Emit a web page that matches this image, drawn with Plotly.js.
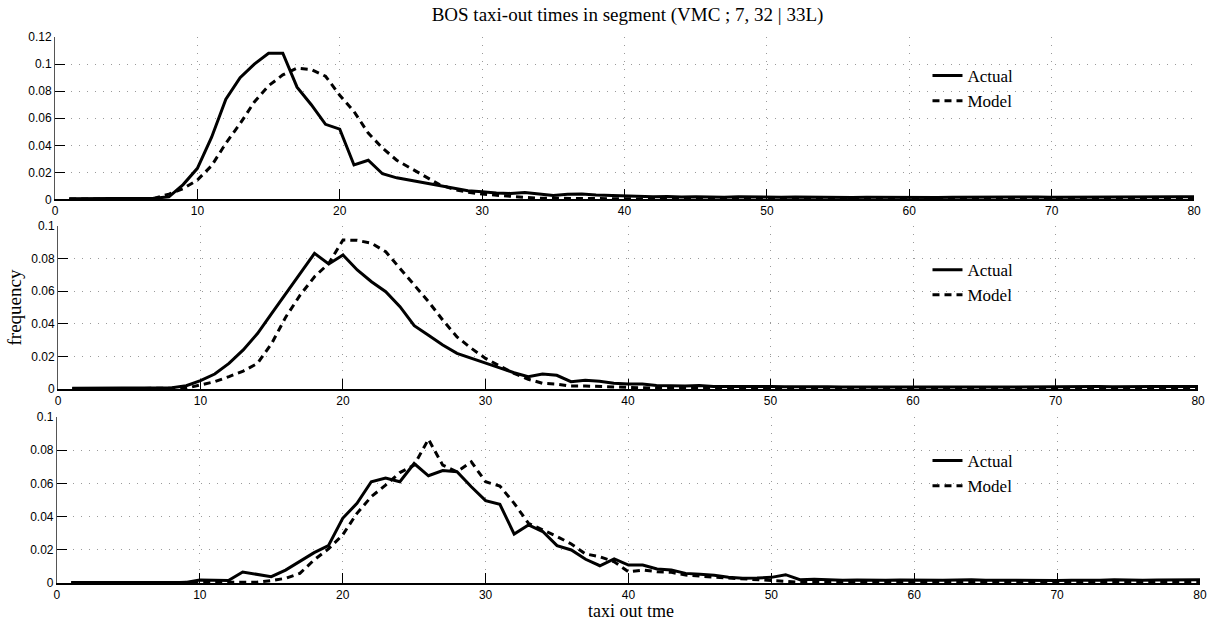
<!DOCTYPE html>
<html>
<head>
<meta charset="utf-8">
<script src="https://cdn.plot.ly/plotly-3.0.1.min.js"></script>
<style>html,body{margin:0;padding:0;background:#fff}#chart{width:1211px;height:620px}</style>
</head>
<body>
<div id="chart"></div>
<script>
// taxi-out time bins (minutes)
const taxiTime = [1,2,3,4,5,6,7,8,9,10,11,12,13,14,15,16,17,18,19,20,
  21,22,23,24,25,26,27,28,29,30,31,32,33,34,35,36,37,38,39,40,
  41,42,43,44,45,46,47,48,49,50,51,52,53,54,55,56,57,58,59,60,
  61,62,63,64,65,66,67,68,69,70,71,72,73,74,75,76,77,78,79,80];

// Panel 1
const actual1 = [0.0005,0.0005,0.0005,0.0005,0.0006,0.0006,0.001,0.002,0.011,0.023,
  0.046,0.074,0.090,0.100,0.108,0.108,0.083,0.070,0.0555,0.052,
  0.0255,0.029,0.019,0.016,0.014,0.0125,0.0105,0.0083,0.0065,0.0058,
  0.0048,0.0045,0.0052,0.004,0.003,0.0038,0.004,0.0033,0.003,0.0025,
  0.0022,0.002,0.0022,0.0018,0.002,0.0018,0.0017,0.002,0.0018,0.0017,
  0.0016,0.0018,0.0016,0.0015,0.0017,0.0015,0.0016,0.0015,0.0016,0.0017,
  0.0016,0.0015,0.0016,0.0017,0.0016,0.0015,0.0016,0.0017,0.0018,0.0016,
  0.0017,0.0018,0.0019,0.002,0.0021,0.0022,0.0022,0.0021,0.002,0.002];
const model1 = [0.0003,0.0003,0.0003,0.0003,0.0004,0.0005,0.001,0.004,0.008,0.0144,
  0.025,0.0415,0.056,0.072,0.084,0.092,0.097,0.096,0.091,0.077,
  0.065,0.049,0.038,0.029,0.023,0.017,0.011,0.0075,0.0053,0.004,
  0.003,0.002,0.0015,0.001,0.001,0.0008,0.0006,0.0005,0.0005,0.0005,
  0.0004,0.0004,0.0004,0.0004,0.0004,0.0004,0.0004,0.0004,0.0004,0.0004,
  0.0004,0.0004,0.0004,0.0004,0.0004,0.0004,0.0004,0.0004,0.0004,0.0004,
  0.0004,0.0004,0.0004,0.0004,0.0004,0.0004,0.0004,0.0004,0.0004,0.0004,
  0.0004,0.0004,0.0004,0.0004,0.0004,0.0004,0.0004,0.0004,0.0004,0.0004];

// Panel 2
const actual2 = [0.0005,0.0005,0.0005,0.0005,0.0006,0.0005,0.0005,0.0008,0.002,0.0051,
  0.0092,0.0157,0.024,0.034,0.0464,0.059,0.071,0.0832,0.0767,0.0822,
  0.073,0.0658,0.0597,0.0505,0.0388,0.033,0.027,0.0219,0.0188,0.0158,
  0.013,0.010,0.0076,0.0092,0.0084,0.0045,0.0053,0.0048,0.0035,0.003,
  0.003,0.0022,0.002,0.0018,0.0022,0.0016,0.0015,0.0016,0.0014,0.0015,
  0.0014,0.0015,0.0013,0.0014,0.0013,0.0014,0.0013,0.0014,0.0013,0.0012,
  0.0013,0.0014,0.0013,0.0012,0.0013,0.0012,0.0013,0.0014,0.0013,0.0012,
  0.0013,0.0014,0.0015,0.0014,0.0013,0.0014,0.0015,0.0016,0.0015,0.0016];
const model2 = [0.0002,0.0002,0.0002,0.0002,0.0002,0.0002,0.0002,0.0002,0.0005,0.0025,
  0.0045,0.0076,0.011,0.0157,0.028,0.0444,0.0577,0.0689,0.077,0.0914,
  0.0912,0.0894,0.0842,0.074,0.0638,0.0536,0.0423,0.032,0.025,0.0188,
  0.0141,0.0096,0.006,0.0035,0.003,0.0018,0.0018,0.0015,0.001,0.001,
  0.0006,0.0005,0.0005,0.0005,0.0005,0.0005,0.0005,0.0005,0.0005,0.0005,
  0.0005,0.0005,0.0005,0.0005,0.0005,0.0005,0.0005,0.0005,0.0005,0.0005,
  0.0005,0.0005,0.0005,0.0005,0.0005,0.0005,0.0005,0.0005,0.0005,0.0005,
  0.0005,0.0005,0.0005,0.0005,0.0005,0.0005,0.0005,0.0005,0.0005,0.0005];

// Panel 3
const actual3 = [0.0003,0.0003,0.0003,0.0003,0.0004,0.0003,0.0003,0.0003,0.0003,0.0018,
  0.0015,0.0015,0.0066,0.0054,0.0038,0.0078,0.0128,0.0183,0.0225,0.039,
  0.048,0.061,0.0633,0.061,0.072,0.0646,0.0677,0.067,0.058,0.0496,
  0.0474,0.0295,0.035,0.031,0.0225,0.0199,0.0143,0.0104,0.0145,0.0108,
  0.0108,0.0084,0.0078,0.0058,0.0052,0.0046,0.0034,0.0028,0.003,0.0034,
  0.005,0.002,0.0022,0.0018,0.0016,0.0018,0.0015,0.0016,0.0018,0.0016,
  0.0015,0.0016,0.0018,0.002,0.0017,0.0016,0.0015,0.0017,0.0016,0.0015,
  0.0016,0.0015,0.0017,0.0019,0.0017,0.0016,0.0018,0.0019,0.002,0.002];
const model3 = [0.0002,0.0002,0.0002,0.0002,0.0002,0.0002,0.0002,0.0002,0.0002,0.0002,
  0.0002,0.0002,0.0002,0.0005,0.0015,0.0028,0.0058,0.0139,0.0205,0.029,
  0.042,0.052,0.059,0.0665,0.071,0.0866,0.071,0.067,0.073,0.061,
  0.0584,0.048,0.036,0.032,0.028,0.0235,0.0175,0.0158,0.0128,0.0068,
  0.0078,0.0068,0.0064,0.0048,0.004,0.0035,0.003,0.0025,0.002,0.0015,
  0.001,0.0005,0.0005,0.0005,0.0005,0.0005,0.0005,0.0005,0.0005,0.0005,
  0.0005,0.0005,0.0005,0.0005,0.0005,0.0005,0.0005,0.0005,0.0005,0.0005,
  0.0005,0.0005,0.0005,0.0005,0.0005,0.0005,0.0005,0.0005,0.0005,0.0005];

const seriesNames = ['Actual', 'Model'];
const titleText = 'BOS taxi-out times in segment (VMC ; 7, 32 | 33L)';
const xTitle = 'taxi out tme';
const yTitle = 'frequency';

const serif = 'Liberation Serif, Times New Roman, serif';
const sans = 'Liberation Sans, Arial, sans-serif';

function lineTrace(y, name, dashed, xa, ya, leg) {
  return {
    x: taxiTime, y: y, name: name, type: 'scatter', mode: 'lines',
    xaxis: xa, yaxis: ya, legend: leg,
    line: {color: '#000', width: 3, dash: dashed ? '7px,5px' : 'solid'},
    hoverinfo: 'x+y+name'
  };
}

// Model first so the Actual line is drawn on top; legends are reversed
const data = [
  lineTrace(model1, seriesNames[1], true, 'x', 'y', 'legend'),
  lineTrace(actual1, seriesNames[0], false, 'x', 'y', 'legend'),
  lineTrace(model2, seriesNames[1], true, 'x2', 'y2', 'legend2'),
  lineTrace(actual2, seriesNames[0], false, 'x2', 'y2', 'legend2'),
  lineTrace(model3, seriesNames[1], true, 'x3', 'y3', 'legend3'),
  lineTrace(actual3, seriesNames[0], false, 'x3', 'y3', 'legend3')
];

const gridStyle = {showgrid: true, gridcolor: '#9a9a9a', griddash: '1px,7px', gridwidth: 1};
const xBase = Object.assign({
  range: [0, 80], dtick: 10, tick0: 0,
  showline: true, linecolor: '#000', linewidth: 1.5, mirror: false,
  ticks: 'inside', ticklen: 10, tickwidth: 1, tickcolor: '#000',
  zeroline: false,
  tickfont: {family: sans, size: 12, color: '#000'}
}, gridStyle);
const yBase = Object.assign({
  dtick: 0.02, tick0: 0,
  showline: true, linecolor: '#555', linewidth: 1, mirror: false,
  ticks: 'inside', ticklen: 10, tickwidth: 1, tickcolor: '#000',
  zeroline: false,
  tickfont: {family: sans, size: 12, color: '#000'}
}, gridStyle);
const legBase = {
  bgcolor: 'rgba(0,0,0,0)', borderwidth: 0,
  font: {family: serif, size: 17, color: '#000'},
  xanchor: 'left', yanchor: 'top', x: 0.762,
  tracegroupgap: 0, itemwidth: 30, traceorder: 'reversed'
};

const layout = {
  width: 1211, height: 620,
  paper_bgcolor: '#fff', plot_bgcolor: '#fff',
  margin: {l: 55, r: 11, t: 37, b: 37},
  showlegend: true,
  title: {text: titleText, font: {family: serif, size: 19, color: '#000'},
          x: 0.5, xref: 'paper', xanchor: 'center', y: 1 - 14/620, yref: 'container', yanchor: 'middle'},
  xaxis: Object.assign({}, xBase, {domain: [0, 0.9948], anchor: 'y'}),
  yaxis: Object.assign({}, yBase, {domain: [0.7024, 1.0], range: [0, 0.12], anchor: 'x'}),
  xaxis2: Object.assign({}, xBase, {domain: [0.0026, 0.9983], anchor: 'y2'}),
  yaxis2: Object.assign({}, yBase, {domain: [0.3553, 0.6538], range: [0, 0.1], anchor: 'x2',
          title: {text: yTitle, font: {family: serif, size: 19, color: '#000'}, standoff: 4}}),
  xaxis3: Object.assign({}, xBase, {domain: [0.0017, 1.0], anchor: 'y3'}),
  yaxis3: Object.assign({}, yBase, {domain: [0, 0.304], range: [0, 0.1], anchor: 'x3'}),
  legend: Object.assign({}, legBase, {y: 0.9615}),
  legend2: Object.assign({}, legBase, {y: 0.606}),
  legend3: Object.assign({}, legBase, {y: 0.2564}),
  annotations: [{
    text: xTitle, xref: 'paper', yref: 'paper', x: 0.503, y: (583 - 611) / 546,
    xanchor: 'center', yanchor: 'middle', showarrow: false,
    font: {family: serif, size: 18, color: '#000'}
  }]
};

Plotly.newPlot('chart', data, layout, {displayModeBar: false, staticPlot: true});
</script>
</body>
</html>
